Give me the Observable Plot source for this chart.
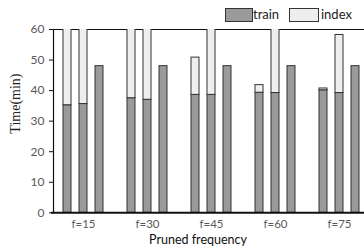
<!DOCTYPE html>
<html>
<head>
<meta charset="utf-8">
<script src="https://cdn.jsdelivr.net/npm/d3@7"></script>
<script src="https://cdn.jsdelivr.net/npm/@observablehq/plot@0.6"></script>
<style>
  body { margin: 0; background: #fff; }
  #wrap { position: relative; width: 364px; height: 249px; }
  .leg { position: absolute; top: 8px; height: 13px; font: 13px Lato, sans-serif; color: #222; line-height: 13px; }
  .sw { position: absolute; top: 8px; height: 12px; border: 1px solid #333; box-sizing: content-box; }
</style>
</head>
<body>
<div id="wrap"></div>
<script>
const groups = ["f=15", "f=30", "f=45", "f=60", "f=75"];
const train1 = [35.2, 37.5, 38.6, 39.3, 40.1];
const index1 = [32, 30, 12.2, 2.5, 0.6];
const train2 = [35.6, 37.0, 38.6, 39.2, 39.2];
const index2 = [30, 31, 28, 27, 19.0];
const train3 = [48, 48, 48, 48, 48];
const yTicks = [0, 10, 20, 30, 40, 50, 60];
const parts = ["train", "index"];

const slots = [];
groups.forEach(g => { slots.push(g + "|0", g + "|1", g + "|2", g + "|gap"); });

const rows = [];
groups.forEach((g, i) => {
  rows.push({slot: g + "|0", part: "train", value: train1[i]});
  rows.push({slot: g + "|0", part: "index", value: index1[i]});
  rows.push({slot: g + "|1", part: "train", value: train2[i]});
  rows.push({slot: g + "|1", part: "index", value: index2[i]});
  rows.push({slot: g + "|2", part: "train", value: train3[i]});
});

const chart = Plot.plot({
  width: 364,
  height: 249,
  marginTop: 29,
  marginBottom: 36.7,
  marginLeft: 53,
  marginRight: 0,
  style: {fontFamily: "Lato, sans-serif", fontSize: "12px", background: "#fff"},
  x: {type: "band", domain: slots, range: [55.3, 383.6], paddingInner: 0.48, paddingOuter: 0.24},
  y: {domain: [0, 60]},
  color: {domain: parts, range: ["#9a9a9c", "#eeeeee"]},
  marks: [
    Plot.ruleY([60], {stroke: "#111", strokeWidth: 1.2}),
    Plot.barY(rows, Plot.stackY({x: "slot", y: "value", fill: "part", stroke: "#333", strokeWidth: 1, clip: true})),
    Plot.frame({anchor: "left", stroke: "#111", strokeWidth: 1.2}),
    Plot.ruleY([0], {stroke: "#111", strokeWidth: 2, insetLeft: -2}),
    Plot.axisY({ticks: yTicks, tickSize: 4, tickPadding: 5, fill: "#595959", stroke: "#111", label: null, fontSize: 12}),
    Plot.axisX({ticks: groups.map(g => g + "|1"), tickFormat: d => d.split("|")[0], tickSize: 0, tickPadding: 7.5, fill: "#595959", label: null, fontSize: 11.5}),
    Plot.text(["Pruned frequency"], {frameAnchor: "bottom", dx: -11, dy: 31.5, fill: "#111", fontSize: 12.5}),
    Plot.text(["Time(min)"], {frameAnchor: "left", rotate: -90, dx: -38, dy: 12.5, fill: "#222", fontSize: 14, fontFamily: "Liberation Serif, serif"})
  ]
});

const wrap = document.getElementById("wrap");
wrap.appendChild(chart);

const legendItems = [
  {label: parts[0], color: "#9a9a9c", sx: 225, sw: 26, tx: 253},
  {label: parts[1], color: "#eeeeee", sx: 289, sw: 28, tx: 321}
];
legendItems.forEach(it => {
  const s = document.createElement("div");
  s.className = "sw";
  s.style.left = it.sx + "px";
  s.style.width = it.sw + "px";
  s.style.background = it.color;
  wrap.appendChild(s);
  const t = document.createElement("div");
  t.className = "leg";
  t.style.left = it.tx + "px";
  t.textContent = it.label;
  wrap.appendChild(t);
});
</script>
</body>
</html>
